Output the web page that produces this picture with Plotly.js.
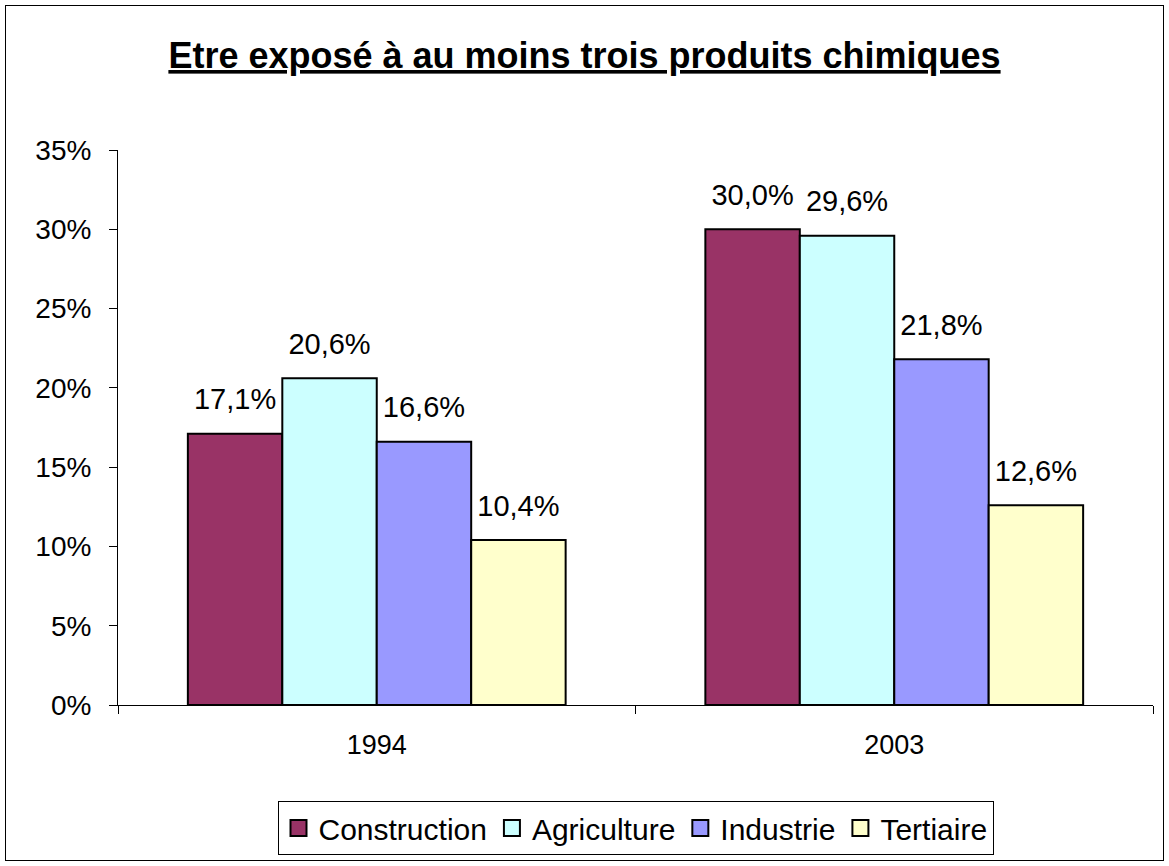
<!DOCTYPE html>
<html><head><meta charset="utf-8">
<script src="https://cdn.plot.ly/plotly-3.0.1.min.js"></script>
<style>
body{margin:0;background:#fff;}
#frame{position:absolute;left:5px;top:5px;width:1157px;height:854px;border:1px solid #000;pointer-events:none;}
#chart{position:absolute;left:0;top:0;width:1169px;height:866px;}
</style>
</head><body>
<div id="chart"></div>
<div id="frame"></div>
<script>
const years = ['1994', '2003'];
const seriesNames = ['Construction', 'Agriculture', 'Industrie', 'Tertiaire'];
const construction = [0.171, 0.300];
const agriculture = [0.206, 0.296];
const industrie = [0.166, 0.218];
const tertiaire = [0.104, 0.126];
const colors = ['#993366', '#CCFFFF', '#9999FF', '#FFFFCC'];
const values = [construction, agriculture, industrie, tertiaire];

const FONT = 'Liberation Sans, Arial, sans-serif';

const bars = values.map((v, i) => ({
  type: 'bar',
  name: seriesNames[i],
  x: years,
  y: v,
  showlegend: false,
  offsetgroup: 'b' + i,
  marker: {color: colors[i], line: {color: '#000', width: 2}},
  hoverinfo: 'skip'
}));

const labels = values.map((v, i) => ({
  type: 'scatter',
  mode: 'markers+text',
  x: years,
  y: v,
  showlegend: false,
  offsetgroup: 's' + i,
  alignmentgroup: 'lbl',
  marker: {size: 26, opacity: 0, color: colors[i]},
  texttemplate: '%{y:.1%}',
  textposition: 'top center',
  cliponaxis: false,
  textfont: {family: FONT, size: 29, color: '#000'},
  hoverinfo: 'skip'
}));

// legend-only entries (larger square keys like the reference)
const keys = seriesNames.map((n, i) => ({
  type: 'scatter',
  mode: 'markers',
  name: n,
  x: [null],
  y: [null],
  showlegend: true,
  offsetgroup: 's' + i,
  alignmentgroup: 'lbl',
  marker: {symbol: 'square', size: 16, color: colors[i], line: {color: '#000', width: 2}},
  hoverinfo: 'skip'
}));

const layout = {
  width: 1169, height: 866,
  margin: {l: 118, r: 16, t: 150, b: 160},
  paper_bgcolor: '#fff', plot_bgcolor: '#fff',
  separators: ', ',
  font: {family: FONT, color: '#000'},
  title: {
    text: '<b><u>Etre exposé à au moins trois produits chimiques</u></b>',
    font: {size: 36, color: '#000', family: FONT},
    x: 0.5, xanchor: 'center', y: 0.936, yanchor: 'middle', yref: 'container'
  },
  barmode: 'group', bargap: 0.27, bargroupgap: 0,
  scattermode: 'group', scattergap: 0.27,
  showlegend: true,
  legend: {
    orientation: 'h', x: 0.5, xanchor: 'center', y: -0.171, yanchor: 'top',
    bordercolor: '#000', borderwidth: 1,
    font: {size: 30, color: '#000', family: FONT},
    itemsizing: 'trace', itemwidth: 30, tracegroupgap: 0
  },
  xaxis: {
    type: 'category', showline: true, linecolor: '#000', linewidth: 1,
    ticks: 'outside', ticklen: 8, tickcolor: '#000', tickson: 'boundaries',
    tickfont: {size: 27, color: '#000'}, ticklabelstandoff: 16,
    showgrid: false, zeroline: false, fixedrange: true
  },
  yaxis: {
    range: [0, 0.35], dtick: 0.05, tickformat: '.0%',
    showline: true, linecolor: '#000', linewidth: 1,
    ticks: 'outside', ticklen: 8, tickcolor: '#000',
    tickfont: {size: 28, color: '#000'}, ticklabelstandoff: 12,
    showgrid: false, zeroline: false, fixedrange: true
  }
};

Plotly.newPlot('chart', bars.concat(labels, keys), layout, {displayModeBar: false, staticPlot: true});
</script>
</body></html>
